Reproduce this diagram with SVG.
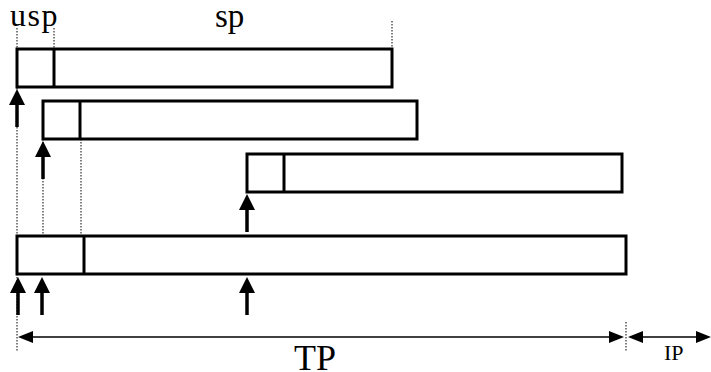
<svg xmlns="http://www.w3.org/2000/svg" width="711" height="372" viewBox="0 0 711 372">
  <style>
    .box { fill: #fff; stroke: #000; stroke-width: 3; }
    .div { stroke: #000; stroke-width: 3; }
    .dot { stroke: #000; stroke-width: 1; stroke-dasharray: 1.5 1.5; fill: none; }
    .shaft { stroke: #000; stroke-width: 3.5; }
    .span { stroke: #000; stroke-width: 1.5; }
    .lbl { font-family: "Liberation Serif", "Times New Roman", serif; fill: #000; }
  </style>
  <defs>
    <!-- upward trigger arrow: tip at origin -->
    <g id="up">
      <polygon points="0,0 -8,16 8,16" fill="#000"/>
      <line x1="0" y1="14" x2="0" y2="38" class="shaft"/>
    </g>
  </defs>

  <!-- guide lines -->
  <g id="guides">
    <line x1="17" y1="28" x2="17" y2="352" class="dot"/>
    <line x1="54" y1="28" x2="54" y2="49" class="dot"/>
    <line x1="392" y1="21" x2="392" y2="49" class="dot"/>
    <line x1="43" y1="139" x2="43" y2="236" class="dot"/>
    <line x1="81" y1="139" x2="81" y2="236" class="dot"/>
    <line x1="626" y1="322" x2="626" y2="352" class="dot"/>
  </g>

  <g id="slot1">
    <rect x="17" y="49" width="375" height="38" class="box"/>
    <line x1="54" y1="49" x2="54" y2="87" class="div"/>
  </g>
  <g id="slot2">
    <rect x="43" y="101" width="374" height="38" class="box"/>
    <line x1="80" y1="101" x2="80" y2="139" class="div"/>
  </g>
  <g id="slot3">
    <rect x="247" y="154" width="375" height="38" class="box"/>
    <line x1="284" y1="154" x2="284" y2="192" class="div"/>
  </g>
  <g id="slot4">
    <rect x="17" y="236" width="609" height="38" class="box"/>
    <line x1="84" y1="236" x2="84" y2="274" class="div"/>
  </g>

  <g id="connectors">
    <use href="#up" x="17" y="89"/>
    <use href="#up" x="43" y="141"/>
    <use href="#up" x="247" y="194"/>
    <use href="#up" x="18" y="277"/>
    <use href="#up" x="42" y="277"/>
    <use href="#up" x="247" y="277"/>

    <!-- TP span -->
    <line x1="30" y1="337" x2="612" y2="337" class="span"/>
    <polygon points="18,337 33,331 33,343" fill="#000"/>
    <polygon points="624,337 609,331 609,343" fill="#000"/>
    <!-- IP span -->
    <line x1="640" y1="337" x2="700" y2="337" class="span"/>
    <polygon points="628,337 643,331 643,343" fill="#000"/>
    <polygon points="711,337 696,331 696,343" fill="#000"/>
  </g>

  <g id="labels">
    <text x="10" y="26" font-size="32" letter-spacing="1.5" class="lbl">usp</text>
    <text x="215" y="27" font-size="33" class="lbl">sp</text>
    <text x="294" y="370" font-size="36" class="lbl">TP</text>
    <text x="664" y="360" font-size="22" class="lbl">IP</text>
  </g>
</svg>
